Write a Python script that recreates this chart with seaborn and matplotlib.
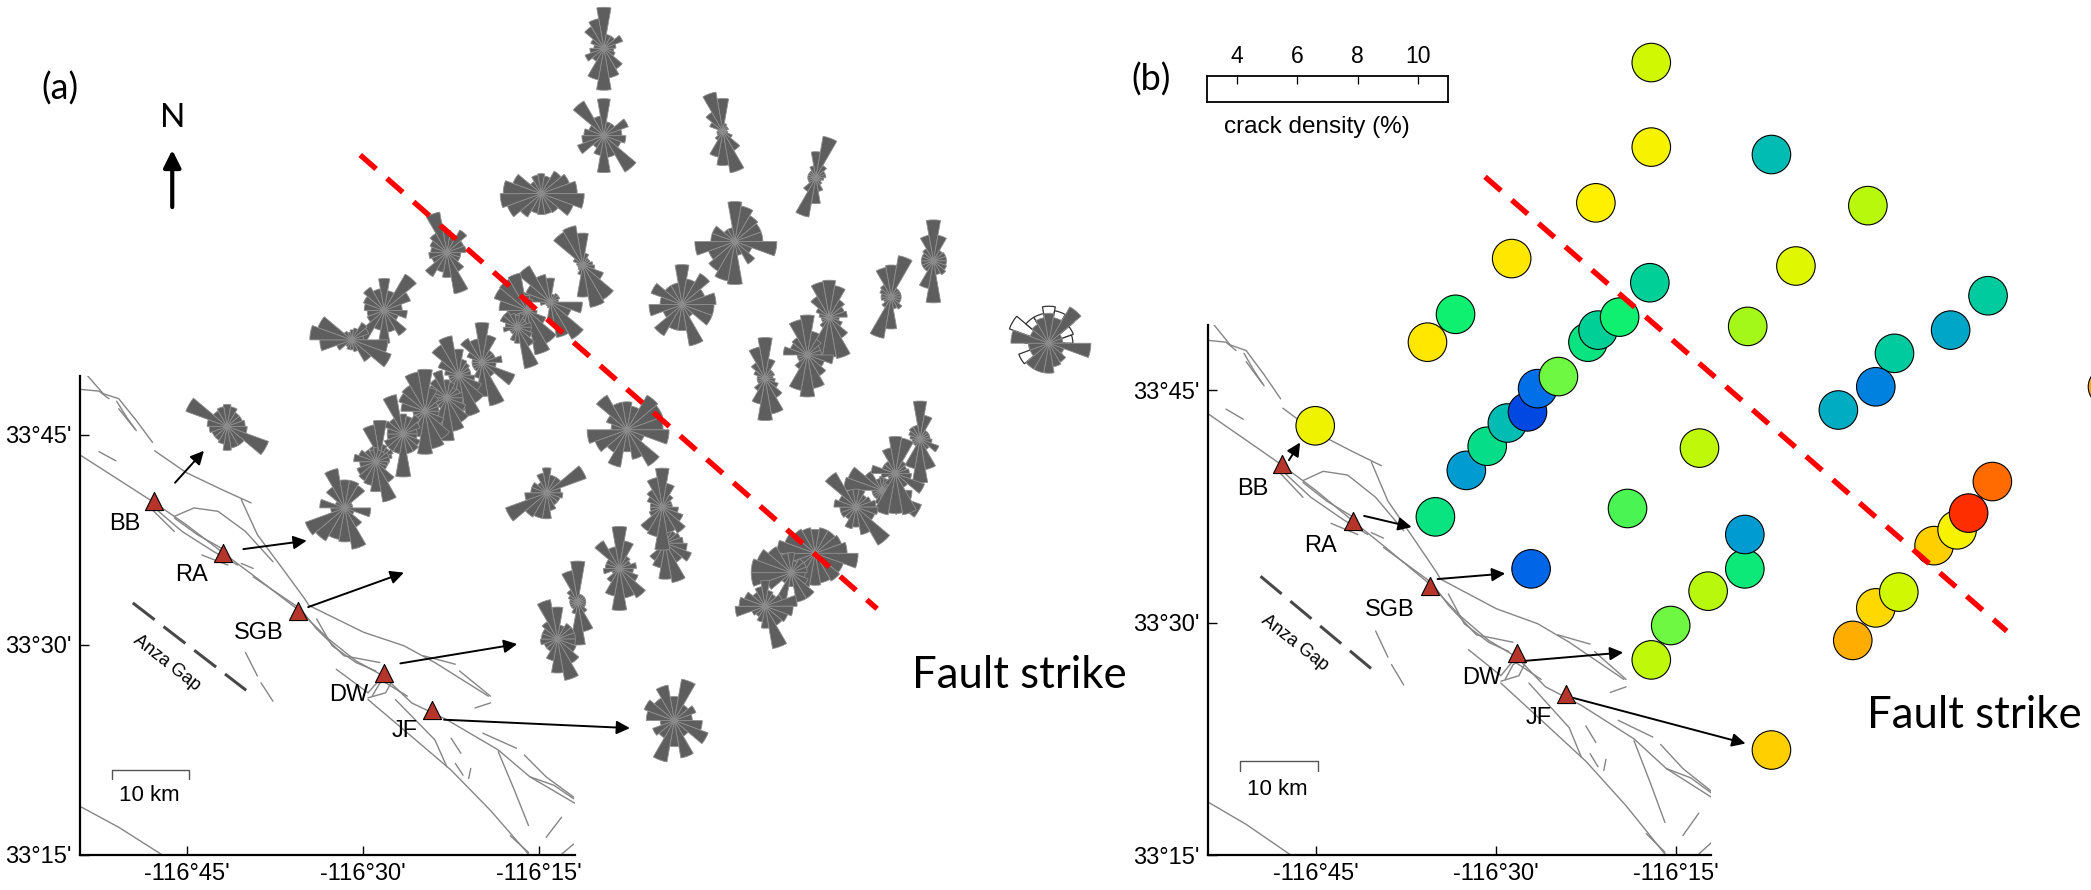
import numpy as np
import pandas as pd
import matplotlib
matplotlib.use('Agg')
import matplotlib.pyplot as plt
from matplotlib.colors import LinearSegmentedColormap
import seaborn as sns

# ---- shared map data (lon / lat in degrees) ----
lon_ticks = [-116.75, -116.5, -116.25]
lon_labels = ["-116°45'", "-116°30'", "-116°15'"]
lat_ticks = [33.25, 33.5, 33.75]
lat_labels = ["33°15'", "33°30'", "33°45'"]

station_names = ['BB', 'RA', 'SGB', 'DW', 'JF']
station_lon = [-116.797, -116.699, -116.592, -116.470, -116.402]
station_lat = [33.671, 33.609, 33.540, 33.467, 33.423]
label_lon = [-116.838, -116.743, -116.648, -116.520, -116.441]
label_lat = [33.644, 33.583, 33.514, 33.440, 33.398]

fault_traces = [
    ([-116.900, -116.833, -116.796, -116.751, -116.701, -116.650, -116.591, -116.549, -116.510, -116.471, -116.431, -116.381, -116.308, -116.263, -116.198],
     [33.725, 33.689, 33.669, 33.643, 33.611, 33.579, 33.541, 33.507, 33.481, 33.463, 33.431, 33.411, 33.375, 33.343, 33.311]),
    ([-116.892, -116.869, -116.847, -116.822, -116.799], [33.821, 33.799, 33.793, 33.767, 33.741]),
    ([-116.900, -116.875, -116.861], [33.804, 33.802, 33.793]),
    ([-116.850, -116.835, -116.822], [33.790, 33.770, 33.755]),
    ([-116.847, -116.824], [33.781, 33.757]),
    ([-116.796, -116.751, -116.701, -116.659], [33.731, 33.705, 33.685, 33.669]),
    ([-116.673, -116.650, -116.611, -116.583, -116.577, -116.499, -116.442, -116.398, -116.322],
     [33.673, 33.631, 33.587, 33.555, 33.547, 33.515, 33.499, 33.479, 33.439]),
    ([-116.768, -116.740, -116.706, -116.667, -116.628], [33.653, 33.663, 33.659, 33.635, 33.599]),
    ([-116.493, -116.431, -116.375, -116.319, -116.265], [33.435, 33.391, 33.351, 33.303, 33.251]),
    ([-116.308, -116.285, -116.265], [33.373, 33.327, 33.285]),
    ([-116.330, -116.282], [33.395, 33.377]),
    ([-116.271, -116.240, -116.201], [33.369, 33.343, 33.319]),
    ([-116.900, -116.847, -116.785], [33.307, 33.283, 33.250]),
    ([-116.667, -116.650], [33.491, 33.463]),
    ([-116.645, -116.628], [33.455, 33.433]),
    ([-116.538, -116.493, -116.476, -116.437], [33.471, 33.443, 33.459, 33.439]),
    ([-116.875, -116.851], [33.730, 33.719]),
    ([-116.729, -116.692], [33.607, 33.595]),
    ([-116.673, -116.656], [33.597, 33.591]),
    ([-116.802, -116.768], [33.663, 33.635]),
    ([-116.375, -116.361], [33.389, 33.371]),
    ([-116.369, -116.358], [33.359, 33.345]),
    ([-116.218, -116.240], [33.295, 33.271]),
    ([-116.201, -116.218], [33.263, 33.251]),
    ([-116.341, -116.319], [33.425, 33.431]),
    ([-116.656, -116.589, -116.566, -116.527, -116.476], [33.581, 33.543, 33.519, 33.487, 33.479]),
    ([-116.454, -116.398, -116.381], [33.435, 33.387, 33.355]),
    ([-116.487, -116.476, -116.462], [33.439, 33.455, 33.461]),
    ([-116.493, -116.468, -116.459], [33.437, 33.443, 33.457]),
    ([-116.796, -116.757, -116.712, -116.678], [33.663, 33.635, 33.611, 33.595]),
    ([-116.768, -116.735, -116.701], [33.651, 33.631, 33.615]),
    ([-116.566, -116.544, -116.510, -116.482], [33.531, 33.499, 33.479, 33.469]),
    ([-116.414, -116.369], [33.487, 33.477]),
    ([-116.363, -116.319], [33.469, 33.439]),
    ([-116.263, -116.229, -116.201], [33.343, 33.333, 33.317]),
    ([-116.291, -116.265], [33.273, 33.253]),
    ([-116.347, -116.350], [33.353, 33.341]),
]
anza_lon = [-116.827, -116.666]
anza_lat = [33.550, 33.446]

# ---- panel (a): shear wave splitting rose diagrams ----
rose_lon = [-116.158, -116.158, -115.989, -115.857, -116.247, -116.381, -116.188, -115.972, -116.047,
            -115.690, -115.750, -116.470, -116.516, -116.234, -116.267, -116.281, -115.526, -115.838,
            -115.869, -115.929, -116.693, -116.331, -116.364, -116.381, -116.412, -116.443, -116.476,
            -116.482, -116.526, -116.239, -116.125, -116.071, -116.075, -116.136, -116.195, -116.224,
            -116.058, -115.709, -115.763, -115.744, -115.800, -115.858, -115.892, -115.929]
rose_lat = [34.210, 34.106, 34.111, 34.056, 34.037, 33.967, 33.952, 33.980, 33.905,
            33.957, 33.914, 33.898, 33.863, 33.908, 33.898, 33.878, 33.859, 33.890,
            33.845, 33.817, 33.760, 33.836, 33.821, 33.794, 33.778, 33.751, 33.722,
            33.718, 33.663, 33.681, 33.756, 33.621, 33.664, 33.591, 33.551, 33.507,
            33.410, 33.745, 33.684, 33.704, 33.664, 33.609, 33.586, 33.546]
# lengths per 20 degree bin, clockwise from north
rose_bins = [
    [41, 14, 14, 20, 12, 10, 12, 24, 30, 42, 32, 15, 20, 14, 10, 14, 25, 30],
    [37, 14, 14, 26, 18, 22, 18, 42, 22, 37, 20, 14, 28, 22, 20, 16, 40, 20],
    [33, 8, 6, 6, 4, 5, 10, 22, 42, 34, 26, 10, 6, 6, 5, 14, 22, 40],
    [26, 42, 14, 10, 10, 8, 6, 8, 14, 26, 40, 16, 8, 8, 8, 8, 8, 12],
    [20, 18, 26, 30, 36, 43, 34, 22, 21, 21, 20, 27, 36, 41, 38, 30, 14, 19],
    [22, 16, 26, 18, 19, 14, 14, 22, 42, 25, 20, 28, 16, 18, 16, 18, 22, 41],
    [32, 12, 8, 8, 10, 12, 22, 40, 43, 32, 10, 6, 5, 5, 6, 10, 38, 40],
    [40, 36, 30, 28, 28, 42, 18, 26, 14, 43, 40, 34, 28, 40, 24, 24, 14, 14],
    [40, 26, 36, 24, 34, 32, 32, 14, 42, 26, 26, 36, 20, 33, 22, 33, 22, 22],
    [41, 26, 12, 13, 13, 13, 14, 16, 14, 42, 28, 12, 12, 12, 12, 12, 14, 26],
    [32, 42, 10, 10, 10, 10, 10, 14, 12, 32, 42, 12, 8, 10, 10, 12, 14, 30],
    [32, 20, 42, 28, 18, 23, 15, 29, 22, 33, 20, 40, 18, 17, 20, 22, 27, 22],
    [10, 12, 20, 18, 12, 36, 42, 25, 12, 10, 10, 8, 16, 32, 42, 36, 10, 8],
    [24, 8, 10, 10, 8, 32, 22, 43, 36, 20, 6, 5, 5, 10, 28, 26, 42, 28],
    [15, 12, 8, 8, 8, 10, 20, 38, 45, 20, 10, 12, 20, 20, 28, 35, 36, 38],
    [12, 14, 10, 10, 14, 14, 16, 22, 42, 16, 14, 8, 8, 14, 12, 18, 18, 14],
    [30, 26, 42, 14, 14, 42, 16, 22, 24, 30, 30, 30, 20, 20, 38, 20, 22, 26],
    [37, 32, 20, 16, 18, 10, 14, 24, 42, 40, 38, 12, 8, 8, 10, 14, 24, 36],
    [40, 24, 18, 14, 14, 26, 18, 24, 34, 42, 36, 16, 10, 10, 24, 18, 20, 36],
    [41, 20, 10, 10, 8, 10, 14, 22, 36, 42, 26, 14, 8, 8, 8, 12, 18, 32],
    [22, 20, 16, 16, 18, 20, 44, 22, 22, 24, 18, 16, 16, 18, 20, 44, 18, 20],
    [40, 28, 14, 14, 20, 14, 35, 16, 44, 34, 16, 10, 10, 10, 10, 16, 28, 24],
    [26, 16, 14, 12, 12, 16, 24, 32, 42, 36, 22, 12, 10, 10, 14, 22, 35, 40],
    [18, 16, 12, 14, 16, 16, 20, 28, 34, 43, 30, 12, 12, 16, 16, 20, 22, 28],
    [42, 24, 18, 14, 14, 14, 20, 32, 38, 43, 26, 14, 10, 12, 24, 28, 30, 40],
    [20, 18, 22, 18, 14, 14, 18, 20, 20, 43, 20, 20, 20, 16, 16, 20, 18, 40],
    [38, 14, 12, 14, 12, 8, 10, 10, 10, 10, 10, 10, 10, 10, 10, 10, 14, 34],
    [14, 12, 12, 14, 14, 12, 12, 24, 41, 30, 24, 22, 20, 16, 22, 18, 14, 12],
    [28, 28, 26, 8, 8, 26, 10, 22, 42, 34, 32, 38, 42, 14, 25, 10, 24, 40],
    [25, 18, 18, 42, 14, 16, 14, 14, 18, 26, 26, 28, 44, 22, 16, 16, 12, 20],
    [28, 24, 40, 38, 36, 42, 18, 42, 30, 22, 38, 26, 34, 40, 16, 22, 40, 28],
    [20, 14, 14, 16, 18, 22, 28, 22, 40, 36, 25, 20, 8, 8, 8, 8, 8, 14],
    [39, 24, 14, 10, 10, 16, 22, 30, 26, 43, 30, 28, 14, 12, 12, 16, 20, 30],
    [42, 28, 14, 12, 17, 14, 20, 34, 30, 42, 28, 16, 8, 16, 14, 14, 32, 22],
    [41, 8, 8, 8, 8, 8, 8, 12, 30, 43, 12, 8, 8, 8, 8, 10, 14, 32],
    [32, 14, 18, 18, 18, 18, 20, 28, 42, 34, 22, 14, 14, 17, 16, 16, 20, 40],
    [24, 42, 18, 23, 18, 28, 36, 18, 38, 26, 42, 20, 23, 14, 28, 32, 26, 36],
    [38, 24, 10, 10, 10, 12, 20, 12, 31, 44, 30, 8, 8, 8, 10, 12, 14, 14],
    [14, 12, 8, 8, 8, 30, 42, 28, 16, 16, 14, 10, 10, 10, 38, 36, 22, 12],
    [37, 36, 14, 12, 14, 16, 31, 16, 42, 40, 42, 14, 8, 14, 24, 14, 14, 26],
    [18, 18, 14, 16, 20, 22, 20, 44, 28, 20, 22, 14, 16, 16, 22, 18, 40, 18],
    [24, 26, 26, 28, 32, 43, 30, 32, 30, 32, 34, 30, 26, 38, 38, 32, 28, 26],
    [20, 12, 16, 16, 16, 14, 18, 30, 30, 14, 34, 12, 26, 40, 40, 36, 30, 20],
    [26, 16, 14, 18, 32, 28, 24, 22, 43, 22, 16, 12, 14, 30, 26, 22, 16, 20],
]
# the isolated east rose also has an open outline behind it
outline_index = 16
outline_bins = [37, 33, 33, 26, 24, 16, 14, 18, 20, 20, 20, 20, 32, 20, 24, 42, 30, 30]

arrow_a_start = [(-116.767, 33.693), (-116.670, 33.614), (-116.578, 33.545), (-116.447, 33.478), (-116.385, 33.411)]
arrow_a_end = [(-116.726, 33.731), (-116.580, 33.624), (-116.442, 33.586), (-116.281, 33.501), (-116.121, 33.401)]
strike_a_lon = [-116.504, -115.770]
strike_a_lat = [34.083, 33.543]

# ---- panel (b): crack density circles, in draw order ----
site_lon = [-116.284, -116.284, -116.117, -116.361, -115.983, -116.478, -116.083, -116.286, -116.556, -116.595,
            -116.372, -116.358, -116.328, -116.150, -115.816, -115.868, -115.946, -115.972, -116.024,
            -116.541, -116.512, -116.484, -116.456, -116.442, -116.413, -116.217, -116.317, -116.584, -116.451,
            -116.154, -116.154, -116.205, -116.257, -116.284,
            -115.810, -115.891, -115.859, -115.843, -116.004, -115.972, -115.940, -116.117, -116.751, -115.650]
site_lat = [34.103, 34.012, 34.004, 33.952, 33.949, 33.892, 33.884, 33.866, 33.832, 33.802,
            33.802, 33.815, 33.829, 33.819, 33.852, 33.815, 33.790, 33.754, 33.729,
            33.664, 33.690, 33.715, 33.727, 33.752, 33.765, 33.688, 33.623, 33.614, 33.558,
            33.558, 33.595, 33.534, 33.497, 33.460,
            33.652, 33.583, 33.600, 33.618, 33.481, 33.516, 33.533, 33.363, 33.712, 33.754]
crack_density = [7.9, 8.4, 5.6, 8.5, 7.6, 8.6, 8.1, 6.0, 6.5, 8.6,
                 6.3, 6.0, 6.5, 7.4, 5.9, 5.2, 5.9, 4.7, 5.3,
                 5.0, 6.2, 5.6, 4.1, 4.5, 7.0, 7.7, 6.8, 6.3, 4.4,
                 6.4, 5.0, 7.6, 7.0, 7.7,
                 10.0, 8.9, 8.4, 10.9, 9.3, 8.8, 7.9, 8.9, 8.3, 9.3]

density_stops = [4.0, 4.5, 5.0, 5.5, 6.0, 6.5, 7.0, 7.5, 8.0, 8.5, 9.0, 10.0, 11.0]
density_colors = ['#0040e0', '#0070e8', '#009cd0', '#00b8b8', '#00d098', '#10f070', '#70f840',
                  '#b0f810', '#d8f800', '#fff000', '#ffc800', '#ff6c00', '#ff2800']
density_ticks = [4, 6, 8, 10]

arrow_b_start = [(-116.7875, 33.675), (-116.683, 33.615), (-116.581, 33.547), (-116.459, 33.459), (-116.392, 33.419)]
arrow_b_end = [(-116.772, 33.694), (-116.617, 33.603), (-116.487, 33.553), (-116.323, 33.468), (-116.153, 33.370)]
strike_b_lon = [-116.515, -115.790]
strike_b_lat = [33.980, 33.491]

sns.set_theme(style="white")
MAP_FONT = 'Liberation Sans'
NOTE_FONT = 'Lato'
W, H = 2091, 890

fig = plt.figure(figsize=(W / 100, H / 100), dpi=100)
ax_a = fig.add_axes([80 / W, 35 / H, 495 / W, 479 / H])
ax_b = fig.add_axes([1208 / W, 35 / H, 503 / W, 530 / H])

fault_df = pd.DataFrame([
    {'lon': x, 'lat': y, 'fault': i}
    for i, (xs, ys) in enumerate(fault_traces) for x, y in zip(xs, ys)
])
station_df = pd.DataFrame({'lon': station_lon, 'lat': station_lat})


def draw_map(ax, arrow_start, arrow_end, strike_lon, strike_lat, xlim, ylim):
    sns.lineplot(data=fault_df, x='lon', y='lat', units='fault', estimator=None, sort=False,
                 color='#858585', linewidth=1.0, ax=ax)
    sns.lineplot(x=anza_lon, y=anza_lat, sort=False, color='#484848', linewidth=2.2,
                 linestyle=(0, (9, 3.7)), dash_capstyle='butt', ax=ax)
    sns.scatterplot(data=station_df, x='lon', y='lat', marker='^', s=170, color='#b5352b',
                    edgecolor='black', linewidth=0.8, clip_on=False, zorder=4, ax=ax)
    for name, x, y in zip(station_names, label_lon, label_lat):
        ax.text(x, y, name, ha='center', va='center', fontsize=17, family=MAP_FONT, color='black')
    ax.text(-116.779, 33.478, 'Anza Gap', rotation=-38, ha='center', va='center',
            fontsize=13, family=MAP_FONT, color='black')

    # scale bar
    ax.plot([-116.856, -116.856, -116.747, -116.747], [33.340, 33.351, 33.351, 33.340],
            color='#555555', linewidth=1.0)
    ax.text(-116.803, 33.321, '10 km', ha='center', va='center', fontsize=16, family=MAP_FONT, color='black')

    for start, end in zip(arrow_start, arrow_end):
        ax.annotate('', xy=end, xytext=start, annotation_clip=False, zorder=8,
                    arrowprops=dict(arrowstyle='-|>', color='black', lw=1.4, mutation_scale=20,
                                    shrinkA=0, shrinkB=0))

    sns.lineplot(x=strike_lon, y=strike_lat, sort=False, color='#ff0000', linewidth=3.9,
                 linestyle=(0, (3.9, 2.65)), dash_capstyle='butt', clip_on=False, zorder=10, ax=ax)

    ax.set_xticks(lon_ticks, lon_labels, family=MAP_FONT, color='black')
    ax.set_yticks(lat_ticks, lat_labels, family=MAP_FONT, color='black')
    ax.tick_params(direction='in', length=6.5, width=1.0, color='black', bottom=True, left=True,
                   pad=6, labelsize=17)
    ax.set_xlabel('')
    ax.set_ylabel('')
    ax.set_xlim(*xlim)
    ax.set_ylim(*ylim)
    sns.despine(ax=ax)
    for side in ('left', 'bottom'):
        ax.spines[side].set_linewidth(1.6)
        ax.spines[side].set_color('black')


def draw_rose(ax, lon, lat, bins, fill=True):
    # inset polar axes 100 px wide, lengths are read in px
    half_w, half_h = 50 / 704, 50 / 841
    rose = ax.inset_axes([lon - half_w, lat - half_h, 2 * half_w, 2 * half_h],
                         transform=ax.transData, projection='polar')
    rose.set_theta_zero_location('N')
    rose.set_theta_direction(-1)
    theta = np.deg2rad(np.arange(len(bins)) * 20)
    if fill:
        rose.bar(theta, bins, width=np.deg2rad(20), color='#5e5e5e', edgecolor='#8e8e8e', linewidth=0.6)
    else:
        rose.bar(theta, bins, width=np.deg2rad(20), color='white', edgecolor='#333333', linewidth=0.9)
    rose.set_rlim(0, 50)
    rose.set_axis_off()
    rose.patch.set_alpha(0)
    return rose


draw_map(ax_a, arrow_a_start, arrow_a_end, strike_a_lon, strike_a_lat, (-116.902, -116.199), (33.25, 33.82))
draw_map(ax_b, arrow_b_start, arrow_b_end, strike_b_lon, strike_b_lat, (-116.90, -116.201), (33.25, 33.8205))

for i, (lon, lat, bins) in enumerate(zip(rose_lon, rose_lat, rose_bins)):
    if i == outline_index:
        draw_rose(ax_a, lon, lat, outline_bins, fill=False)
    draw_rose(ax_a, lon, lat, bins)

# north arrow
ax_a.annotate('', xy=(-116.771, 34.089), xytext=(-116.771, 34.021), annotation_clip=False,
              arrowprops=dict(arrowstyle='-|>', color='black', lw=3.0, mutation_scale=26, shrinkA=0, shrinkB=0))
ax_a.text(-116.771, 34.127, 'N', ha='center', va='center', fontsize=24, family=NOTE_FONT, color='black')

# crack density circles
density_cmap = LinearSegmentedColormap.from_list(
    'density', [((s - 4.0) / 7.0, c) for s, c in zip(density_stops, density_colors)])
site_df = pd.DataFrame({'lon': site_lon, 'lat': site_lat, 'density': crack_density})
sns.scatterplot(data=site_df, x='lon', y='lat', hue='density', palette=density_cmap, hue_norm=(4, 11),
                s=770, edgecolor='black', linewidth=0.8, legend=False, clip_on=False, zorder=6, ax=ax_b)
ax_b.set_xlim(-116.90, -116.201)
ax_b.set_ylim(33.25, 33.8205)
ax_b.set_xlabel('')
ax_b.set_ylabel('')

# empty crack density scale box
ax_scale = fig.add_axes([1207 / W, (H - 102) / H, 241 / W, 26 / H])
ax_scale.set_xlim(3, 11)
ax_scale.set_ylim(0, 1)
ax_scale.set_yticks([])
ax_scale.set_xticks(density_ticks, [str(t) for t in density_ticks], family=MAP_FONT)
ax_scale.xaxis.tick_top()
ax_scale.tick_params(axis='x', direction='in', length=6, width=0.9, color='black', labelsize=16.5, pad=6,
                     labelcolor='black')
for spine in ax_scale.spines.values():
    spine.set_linewidth(1.3)
    spine.set_color('black')
fig.text(1317 / W, (H - 127) / H, 'crack density (%)', ha='center', va='center', fontsize=17.5,
         family=MAP_FONT, color='black')

# panel letters and notes
fig.text(60 / W, (H - 89) / H, '(a)', ha='center', va='center', fontsize=26, family=NOTE_FONT, color='black')
fig.text(1151 / W, (H - 80) / H, '(b)', ha='center', va='center', fontsize=26, family=NOTE_FONT, color='black')
fig.text(1019 / W, (H - 675) / H, 'Fault strike', ha='center', va='center', fontsize=31.5, family=NOTE_FONT, color='black')
fig.text(1974 / W, (H - 716) / H, 'Fault strike', ha='center', va='center', fontsize=31.5, family=NOTE_FONT, color='black')

fig.savefig('out.png', dpi=100)
